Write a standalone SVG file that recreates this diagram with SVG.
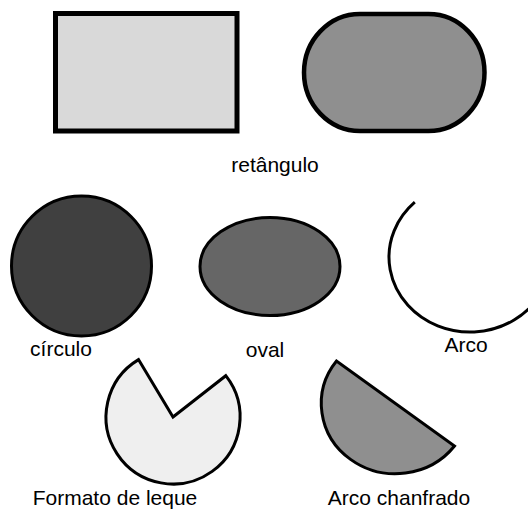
<svg xmlns="http://www.w3.org/2000/svg" width="528" height="510" viewBox="0 0 528 510">
<style>
  .shape { stroke: #000; stroke-width: 3; stroke-linejoin: miter; }
  .lbl { font-family: "Liberation Sans", Arial, sans-serif; font-size: 21px; fill: #000; text-anchor: middle; }
</style>
<rect x="0" y="0" width="528" height="510" fill="#fff"/>
<g id="retangulo">
  <rect class="shape" x="55.5" y="13.5" width="181.5" height="117.5" fill="#d9d9d9" style="stroke-width:5"/>
</g>
<g id="retangulo-arredondado">
  <rect class="shape" x="304" y="14" width="180.5" height="117" rx="56" ry="58.5" fill="#8f8f8f" style="stroke-width:4.5"/>
</g>
<text class="lbl" x="275" y="172">retângulo</text>
<g id="circulo">
  <circle class="shape" cx="81.5" cy="266" r="70" fill="#404040"/>
  <text class="lbl" x="61" y="356">círculo</text>
</g>
<g id="oval">
  <ellipse class="shape" cx="270" cy="266.5" rx="70" ry="49" fill="#666666"/>
  <text class="lbl" x="265" y="357">oval</text>
</g>
<g id="arco">
  <path class="shape" d="M 414.8 202.2 A 81 75 0 1 0 551 257" fill="none"/>
  <text class="lbl" x="466" y="352">Arco</text>
</g>
<g id="leque">
  <path class="shape" d="M 173 417 L 225.8 375.7 A 67 67 0 1 1 138.5 359.6 Z" fill="#efefef"/>
  <text class="lbl" x="115" y="505">Formato de leque</text>
</g>
<g id="arco-chanfrado">
  <path class="shape" d="M 336.5 361 A 74 70 0 1 0 454.5 446 Z" fill="#8f8f8f"/>
  <text class="lbl" x="399" y="505">Arco chanfrado</text>
</g>
</svg>
